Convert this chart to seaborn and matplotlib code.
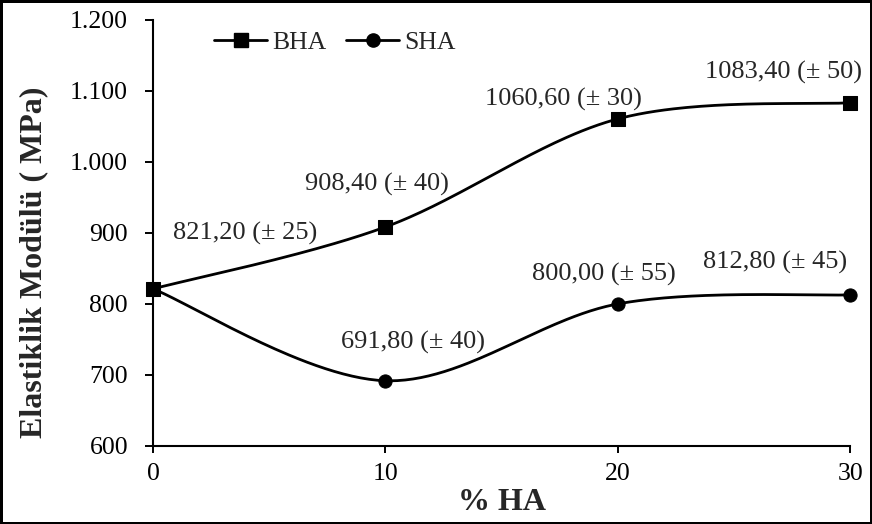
import numpy as np
import pandas as pd
import matplotlib
matplotlib.use("Agg")
import matplotlib.pyplot as plt
import seaborn as sns
from matplotlib.lines import Line2D
from matplotlib.ticker import FuncFormatter

# ---------------- DATA ----------------
ha_percent = [0, 10, 20, 30]
bha_values = [821.20, 908.40, 1060.60, 1083.40]
sha_values = [821.20, 691.80, 800.00, 812.80]
bha_errors = [25, 40, 30, 50]
sha_errors = [25, 40, 55, 45]
y_ticks = [600, 700, 800, 900, 1000, 1100, 1200]
x_ticks = [0, 10, 20, 30]

# label offsets in pixels (style only)
bha_offsets = [(92, 55), (-8, 43), (-54, 19), (-67, 30)]
sha_offsets = [None, (28, 38), (-14, 29), (-75, 32)]


def excel_smooth(xs, ys, n=60):
    # Catmull-Rom style bezier, like Excel "smoothed line"
    pts = np.column_stack([xs, ys]).astype(float)
    ext = np.vstack([pts[0], pts, pts[-1]])
    out = []
    t = np.linspace(0, 1, n)[:, None]
    for i in range(len(pts) - 1):
        p0, p1, p2, p3 = ext[i], ext[i + 1], ext[i + 2], ext[i + 3]
        c1 = p1 + (p2 - p0) / 6
        c2 = p2 - (p3 - p1) / 6
        seg = ((1 - t) ** 3) * p1 + 3 * ((1 - t) ** 2) * t * c1 + 3 * (1 - t) * t ** 2 * c2 + t ** 3 * p2
        out.append(seg if i == 0 else seg[1:])
    out = np.vstack(out)
    return out[:, 0], out[:, 1]


def fmt_label(v, e):
    return f"{v:.2f}".replace(".", ",") + f" (± {e})"


# ---------------- STYLE ----------------
sns.set_style("ticks")
plt.rcParams["font.family"] = ["Liberation Serif", "DejaVu Serif"]

fig = plt.figure(figsize=(8.72, 5.24), dpi=100, edgecolor="black", linewidth=2.5)
ax = fig.add_axes([0.1755, 0.149, 0.7995, 0.813])

for vals, marker in [(bha_values, "s"), (sha_values, "o")]:
    sx, sy = excel_smooth(ha_percent, vals)
    curve = pd.DataFrame({"x": sx, "y": sy})
    sns.lineplot(data=curve, x="x", y="y", ax=ax, color="black", linewidth=2,
                 sort=False, estimator=None)
    pts = pd.DataFrame({"x": ha_percent, "y": vals})
    sns.scatterplot(data=pts, x="x", y="y", ax=ax, marker=marker, s=90,
                    color="black", edgecolor="black", clip_on=False, zorder=5)

# ---------------- LABELS ----------------
for x, v, e, off in zip(ha_percent, bha_values, bha_errors, bha_offsets):
    ax.annotate(fmt_label(v, e), (x, v), xytext=off, textcoords="offset pixels",
                ha="center", va="center", fontsize=19)
for x, v, e, off in zip(ha_percent, sha_values, sha_errors, sha_offsets):
    if off is None:
        continue
    ax.annotate(fmt_label(v, e), (x, v), xytext=off, textcoords="offset pixels",
                ha="center", va="center", fontsize=19)

ax.set_xlim(0, 30)
ax.set_ylim(600, 1200)
ax.set_xticks(x_ticks)
ax.set_yticks(y_ticks)
ax.yaxis.set_major_formatter(FuncFormatter(lambda v, p: f"{v:,.0f}".replace(",", ".")))
ax.tick_params(axis="both", labelsize=18.5, width=1.4, color="black", labelcolor="black")
ax.tick_params(axis="x", length=5, pad=7)
ax.tick_params(axis="y", length=6, pad=12)
ax.set_xlabel("% HA", fontsize=23, fontweight="bold")
ax.set_ylabel("Elastiklik Modülü ( MPa)", fontsize=23, fontweight="bold")
ax.xaxis.set_label_coords(0.5, -0.098)
ax.yaxis.set_label_coords(-0.15, 0.43)

sns.despine(ax=ax)
for side in ["left", "bottom"]:
    ax.spines[side].set_linewidth(1.5)
    ax.spines[side].set_color("black")

handles = [
    Line2D([0], [0], color="black", linewidth=2, marker="s", markersize=9.5),
    Line2D([0], [0], color="black", linewidth=2, marker="o", markersize=9.5),
]
ax.legend(handles, ["BHA", "SHA"], loc="center", bbox_to_anchor=(0.261, 0.948),
          ncol=2, frameon=False, fontsize=18.5, handlelength=2.07, handletextpad=0.2,
          columnspacing=0.75, borderpad=0, borderaxespad=0)

fig.savefig("out.png", dpi=100, edgecolor=fig.get_edgecolor())
